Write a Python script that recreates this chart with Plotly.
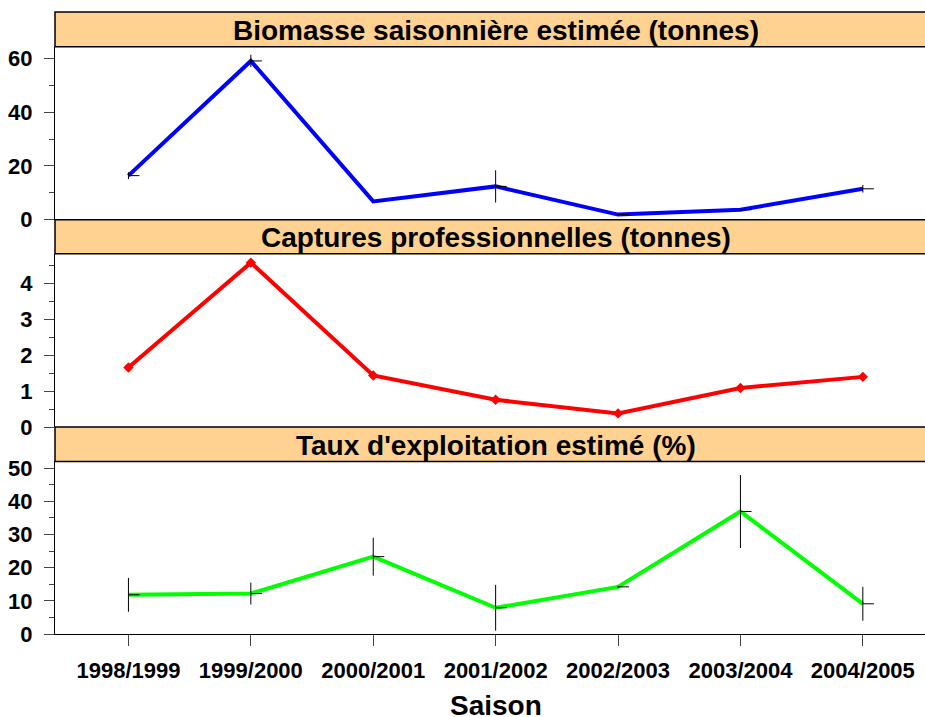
import plotly.graph_objects as go

saisons = ["1998/1999", "1999/2000", "2000/2001", "2001/2002",
           "2002/2003", "2003/2004", "2004/2005"]
biomasse = [16.4, 59.1, 6.8, 12.4, 1.9, 3.7, 11.5]
biomasse_err = [1.3, 2.3, 0.4, 6.0, 0.3, 0.4, 1.4]
captures = [1.66, 4.59, 1.44, 0.76, 0.38, 1.09, 1.40]
taux = [11.8, 12.2, 23.3, 7.9, 14.2, 36.9, 9.1]
taux_err = [5.1, 3.3, 5.7, 6.9, 0.3, 11.0, 5.1]

titres = ["Biomasse saisonnière estimée (tonnes)",
          "Captures professionnelles (tonnes)",
          "Taux d'exploitation estimé (%)"]
titre_x = "Saison"

xs = list(range(len(saisons)))
FONT = "Liberation Sans, Arial, sans-serif"
STRIP = "#FFD291"

W, H = 925, 717
L = 55
TOP = 12.3
BOT = 634.3

fig = go.Figure()

def err_trace(vals, errs, yaxis):
    return go.Scatter(
        x=xs, y=vals, mode="markers", yaxis=yaxis, xaxis="x",
        marker=dict(size=1, color="rgba(0,0,0,0)"),
        error_y=dict(type="data", array=errs, visible=True, color="black",
                     thickness=1, width=0),
        error_x=dict(type="constant", value=0.09, valueminus=0, symmetric=False,
                     visible=True, color="black", thickness=1, width=0),
        showlegend=False, hoverinfo="skip")

fig.add_trace(go.Scatter(x=xs, y=biomasse, mode="lines", yaxis="y3", xaxis="x",
                         line=dict(color="#0000FF", width=4), showlegend=False))
fig.add_trace(err_trace(biomasse, biomasse_err, "y3"))

fig.add_trace(go.Scatter(x=xs, y=captures, mode="lines+markers", yaxis="y2", xaxis="x",
                         line=dict(color="#FF0000", width=4),
                         marker=dict(symbol="diamond", size=8, color="#FF0000"),
                         showlegend=False))

fig.add_trace(go.Scatter(x=xs, y=taux, mode="lines", yaxis="y", xaxis="x",
                         line=dict(color="#00FF00", width=4), showlegend=False))
fig.add_trace(err_trace(taux, taux_err, "y"))

def p(ypix):
    return (BOT - ypix) / (BOT - TOP)

d3 = [0, p(461.7)]
s3 = [p(461.7), p(427.3)]
d2 = [p(427.3), p(254)]
s2 = [p(254), p(220)]
d1 = [p(220), p(47)]
s1 = [p(47), 1.0]

tickfont = dict(family=FONT, size=22, color="black", weight="bold")
yax_common = dict(showline=True, linecolor="black", linewidth=1, ticks="outside",
                  ticklen=10, tickcolor="#444", tickwidth=1, tickfont=tickfont,
                  showgrid=False, zeroline=False, ticklabelstandoff=7,
                  anchor="x", automargin=False)

plot_w = W - L
fig.update_layout(
    width=W, height=H,
    margin=dict(l=L, r=0, t=TOP, b=H - BOT, pad=0, autoexpand=False),
    plot_bgcolor="white", paper_bgcolor="white",
    font=dict(family=FONT, color="black"),
    xaxis=dict(range=[-0.6, -0.6 + plot_w / 122.4], tickvals=xs, ticktext=saisons,
               showline=True, linecolor="black", linewidth=1, ticks="outside",
               ticklen=11, tickcolor="#444", tickfont=tickfont, showgrid=False,
               zeroline=False, ticklabelstandoff=6, anchor="y", automargin=False),
    yaxis=dict(domain=d3, range=[0, 52.0], tickvals=[0, 10, 20, 30, 40, 50],
               minor=dict(dtick=5, ticks="outside", ticklen=5, tickcolor="#444"),
               **yax_common),
    yaxis2=dict(domain=d2, range=[0, 4.84], tickvals=[0, 1, 2, 3, 4],
                minor=dict(dtick=0.5, ticks="outside", ticklen=5, tickcolor="#444"),
                **yax_common),
    yaxis3=dict(domain=d1, range=[0, 64.4], tickvals=[0, 20, 40, 60],
                minor=dict(dtick=10, ticks="outside", ticklen=5, tickcolor="#444"),
                **yax_common),
)

shapes = []
annotations = []
for (y0, y1), titre in zip([s1, s2, s3], titres):
    shapes.append(dict(type="rect", xref="paper", yref="paper",
                       x0=0, x1=1.02, y0=y0, y1=y1,
                       fillcolor=STRIP, line=dict(color="black", width=1.5),
                       layer="above"))
    annotations.append(dict(xref="paper", yref="paper",
                            x=(495.5 - 55) / plot_w, y=(y0 + y1) / 2,
                            xanchor="center", yanchor="middle", yshift=-1,
                            text=titre, showarrow=False,
                            font=dict(family=FONT, size=28, color="black",
                                      weight="bold")))
annotations.append(dict(xref="paper", yref="paper",
                        x=(495.5 - 55) / plot_w, y=p(706),
                        xanchor="center", yanchor="middle",
                        text=titre_x, showarrow=False,
                        font=dict(family=FONT, size=28, color="black",
                                  weight="bold")))
fig.update_layout(shapes=shapes, annotations=annotations)

fig.write_html("out.html",
               config={"displayModeBar": False},
               post_script="document.body.style.margin='0';"
                           "document.body.style.overflow='hidden';")
